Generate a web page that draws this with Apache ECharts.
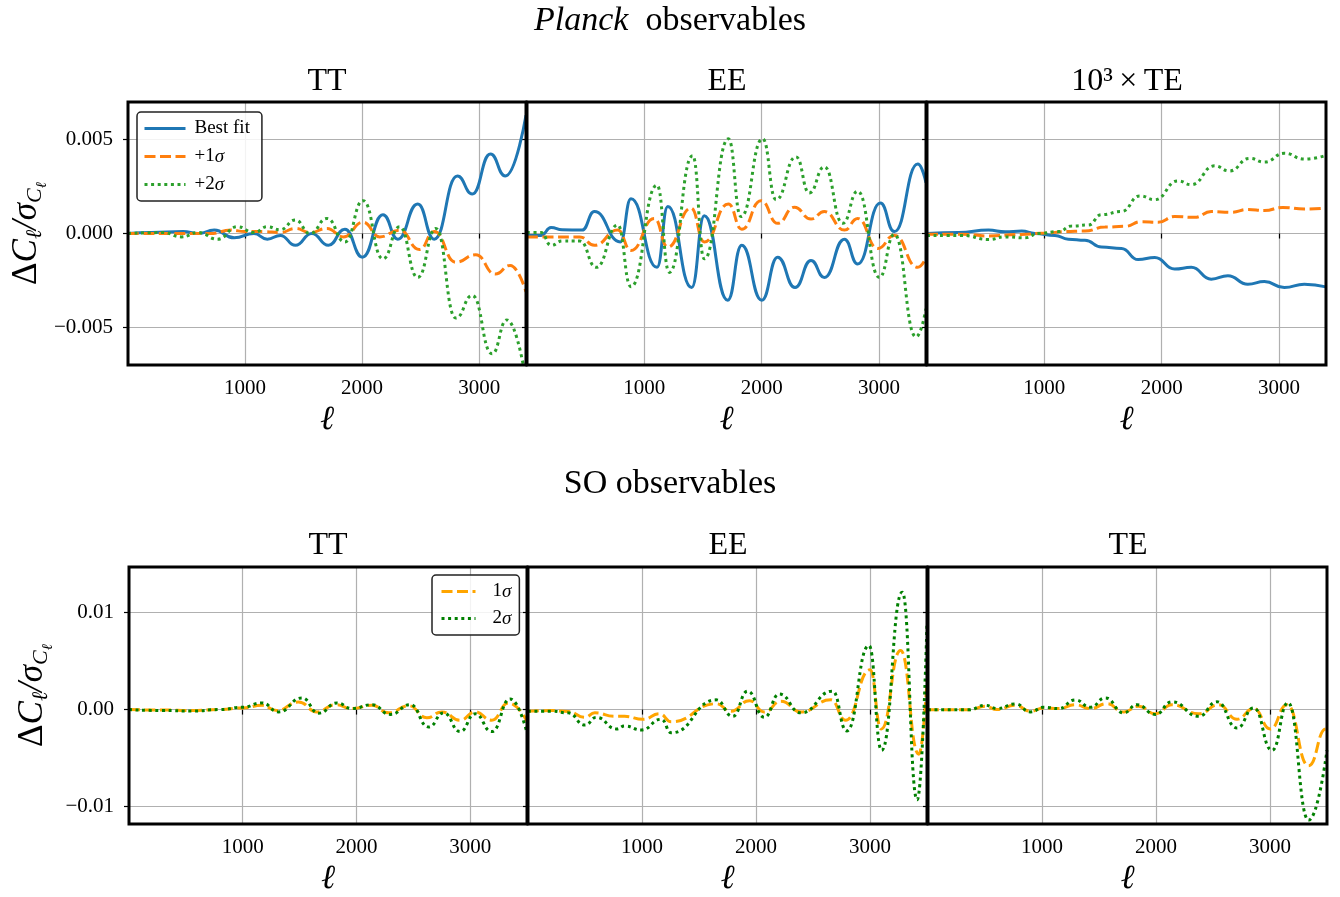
<!DOCTYPE html>
<html><head><meta charset="utf-8">
<script src="https://cdn.jsdelivr.net/npm/echarts@6/dist/echarts.min.js"></script>
<style>html,body{margin:0;padding:0;background:#fff}#c{width:1340px;height:897px}</style>
</head><body><div id="c"></div><script>
// ---------------- data (ell, value) ----------------
const planckTT_best = [[0,0],[200,0.00005],[470,0.0001],[600,0],[737,0.00018],[907,-0.00023],[1076,0],[1190,-0.0003],[1302,-0.0001],[1430,-0.00063],[1570,0],[1712,-0.00063],[1853,0.00023],[2003,-0.00126],[2178,0.001],[2305,-0.0003],[2475,0.00157],[2616,-0.0003],[2814,0.00306],[2941,0.0021],[3096,0.00423],[3223,0.00306],[3400,0.0063]];
const planckTT_p1 = [[0,0],[700,0],[880,0.00018],[1000,0.0001],[1160,0.0001],[1300,0.00005],[1430,0.00027],[1556,0.00005],[1700,0.00027],[1840,-0.00018],[2008,0.0006],[2150,-0.00018],[2320,0.00018],[2490,-0.00085],[2616,0.0001],[2800,-0.00153],[2970,-0.00113],[3138,-0.00216],[3265,-0.0017],[3400,-0.0031]];
const planckTT_p2 = [[0,0],[300,0.00005],[455,-0.00018],[600,0.00005],[765,-0.0003],[935,0.00036],[1076,0.00005],[1190,0.00036],[1300,0.0002],[1430,0.00072],[1556,0],[1700,0.0008],[1853,-0.00045],[2008,0.00175],[2178,-0.00135],[2320,0.00036],[2475,-0.00234],[2630,0.00027],[2800,-0.0045],[2941,-0.0033],[3110,-0.0064],[3237,-0.0046],[3400,-0.0078]];

const planckEE_best = [[0,-0.0001],[120,-0.0001],[205,0.00032],[300,0.0002],[470,0.00018],[574,0.00117],[795,-0.00045],[886,0.00185],[1108,-0.0018],[1200,0.00144],[1403,-0.00288],[1511,0.00095],[1710,-0.00355],[1830,-0.00063],[2000,-0.00355],[2136,-0.00126],[2284,-0.00288],[2420,-0.00144],[2534,-0.00234],[2705,-0.0003],[2818,-0.00162],[3011,0.00162],[3130,0.0001],[3330,0.0037],[3400,0.0027]];
const planckEE_p1 = [[0,-0.00018],[180,-0.00018],[450,-0.00018],[574,-0.00063],[773,0.00018],[886,-0.0009],[1085,0.0008],[1200,-0.00072],[1398,0.00135],[1511,-0.00045],[1716,0.00157],[1830,0.00023],[1994,0.00175],[2136,0.00054],[2278,0.0014],[2420,0.00077],[2534,0.00117],[2705,0.00018],[2818,0.0008],[2989,-0.0008],[3130,-0.0001],[3330,-0.0018],[3400,-0.0013]];
const planckEE_p2 = [[0,0.00005],[120,0.00005],[205,-0.00063],[300,-0.0004],[450,-0.0004],[590,-0.0018],[773,0.00045],[886,-0.00283],[1108,0.00257],[1213,-0.00207],[1412,0.00414],[1511,-0.00135],[1716,0.00504],[1824,0.0009],[2008,0.00504],[2122,0.0018],[2292,0.00408],[2406,0.00216],[2534,0.00355],[2690,0.00054],[2818,0.00225],[3003,-0.00234],[3130,-0.00005],[3315,-0.0055],[3400,-0.004]];

const planckTE_best = [[0,0],[269,0.00005],[524,0.00018],[666,0.00009],[807,0.00013],[920,0],[1090,-0.0001],[1204,-0.0003],[1346,-0.00036],[1487,-0.00072],[1657,-0.0008],[1799,-0.00139],[1941,-0.00128],[2110,-0.00189],[2252,-0.0018],[2422,-0.00243],[2564,-0.00225],[2734,-0.0027],[2875,-0.00256],[3045,-0.00288],[3215,-0.0027],[3400,-0.00284]];
const planckTE_p1 = [[0,-0.00004],[300,-0.00004],[524,-0.00013],[800,-0.00005],[1006,0.00002],[1176,0.0001],[1346,0.00013],[1516,0.00034],[1686,0.00038],[1827,0.00063],[1969,0.0006],[2110,0.0009],[2280,0.00086],[2422,0.00117],[2592,0.00113],[2734,0.00128],[2875,0.00122],[3031,0.00139],[3215,0.0013],[3400,0.00136]];
const planckTE_p2 = [[0,-0.0001],[300,-0.0001],[524,-0.00032],[666,-0.00018],[836,-0.00023],[949,0],[1119,0.0001],[1232,0.0004],[1374,0.00045],[1487,0.001],[1657,0.00117],[1813,0.002],[1941,0.0018],[2139,0.0028],[2252,0.0026],[2450,0.0036],[2578,0.00333],[2748,0.004],[2875,0.0038],[3045,0.00427],[3215,0.00396],[3400,0.00416]];

const soTT_1 = [[0,0],[300,-0.00005],[550,-0.0001],[800,0],[995,0.00017],[1170,0.00044],[1300,-0.0001],[1490,0.00078],[1653,-0.00024],[1814,0.0005],[1961,0.0001],[2136,0.00044],[2283,-0.00034],[2459,0.0004],[2620,-0.00085],[2751,-0.00024],[2912,-0.0011],[3044,-0.00024],[3190,-0.0011],[3337,0.00068],[3500,-0.0012]];
const soTT_2 = [[0,0],[300,-0.0001],[550,-0.00015],[800,0],[995,0.00024],[1170,0.00068],[1316,-0.00024],[1521,0.0012],[1668,-0.00037],[1829,0.00068],[1961,0.0001],[2136,0.0005],[2298,-0.0005],[2474,0.0005],[2635,-0.0018],[2767,-0.00034],[2912,-0.00227],[3044,-0.00044],[3190,-0.00227],[3352,0.0011],[3500,-0.0024]];

const soEE_1 = [[0,-0.00017],[207,-0.0001],[353,-0.0002],[499,-0.0008],[586,-0.00034],[761,-0.0007],[848,-0.0007],[1009,-0.001],[1155,-0.00044],[1257,-0.00126],[1650,0.0006],[1781,-0.00017],[1942,0.00092],[2073,-0.00024],[2219,0.00085],[2394,-0.00024],[2656,0.001],[2787,-0.0011],[3000,0.0041],[3099,-0.002],[3268,0.0061],[3428,-0.0046],[3500,0.003]];
const soEE_2 = [[0,-0.00017],[207,-0.00017],[353,-0.00034],[499,-0.0016],[600,-0.0008],[776,-0.002],[848,-0.0017],[994,-0.0021],[1169,-0.001],[1257,-0.0024],[1650,0.001],[1796,-0.0007],[1927,0.0019],[2073,-0.0008],[2204,0.0016],[2394,-0.00034],[2671,0.0019],[2796,-0.0022],[2991,0.0066],[3102,-0.0042],[3283,0.0121],[3414,-0.0093],[3500,0.009]];

const soTE_1 = [[0,-0.00003],[357,-0.00003],[503,0.00034],[605,0],[766,0.00044],[898,-0.00017],[1015,0.00015],[1146,0.0001],[1292,0.0005],[1424,0.0001],[1570,0.0006],[1716,-0.00024],[1848,0.00034],[1994,-0.00044],[2140,0.0005],[2374,-0.00044],[2550,0.0005],[2711,-0.001],[2857,0.0001],[3003,-0.002],[3149,0.0005],[3339,-0.0058],[3490,-0.002],[3500,-0.002]];
const soTE_2 = [[0,-0.00003],[357,-0.00003],[503,0.00044],[605,0.0001],[766,0.00058],[898,-0.00024],[1015,0.00024],[1146,0.0001],[1292,0.001],[1424,0.00024],[1556,0.0012],[1716,-0.00034],[1833,0.0005],[1994,-0.0005],[2140,0.0008],[2374,-0.0007],[2535,0.0008],[2711,-0.0019],[2857,0.00017],[3018,-0.0042],[3158,0.0007],[3339,-0.0114],[3500,-0.0042]];

const xTickValues = [1000, 2000, 3000];
const topYTicks = [-0.005, 0, 0.005];
const botYTicks = [-0.01, 0, 0.01];
const topPanelTitles = ['TT', 'EE', '10\u00b3\u2009\u00d7\u2009TE'];
const botPanelTitles = ['TT', 'EE', 'TE'];
const topNames = ['Best fit', '+1\u03c3', '+2\u03c3'];
const botNames = ['1\u03c3', '2\u03c3'];

// ---------------- chart ----------------
const FONT = '"Liberation Serif","DejaVu Serif",serif';
const chart = echarts.init(document.getElementById('c'), null, {renderer: 'canvas'});

const grids = [
  {left: 128, top: 102, width: 398, height: 263},
  {left: 527, top: 102, width: 399, height: 263},
  {left: 927, top: 102, width: 399, height: 263},
  {left: 129, top: 567, width: 398, height: 260},
  {left: 528, top: 567, width: 399, height: 260},
  {left: 928, top: 567, width: 399, height: 260}
].map(g => Object.assign(g, {show: true, borderColor: '#000', borderWidth: 3, backgroundColor: 'transparent', z: 5}));

function fmtY(v, step, dec) {
  if (Math.abs(v / step - Math.round(v / step)) > 1e-6) return '';
  const s = Math.abs(v).toFixed(dec);
  return v < -1e-12 ? '\u2212' + s : s;
}

function xAx(gi, max) {
  return {
    type: 'value', gridIndex: gi, min: 0, max: max, interval: 1000,
    axisLine: {show: false},
    axisTick: {show: true, length: 5, inside: false, customValues: xTickValues, lineStyle: {color: '#000', width: 1.2}},
    axisLabel: {customValues: xTickValues, formatter: v => (v > 0 && v <= 3000 && v % 1000 === 0) ? String(v) : '',
      fontFamily: FONT, fontSize: 21, color: '#000', margin: 13},
    splitLine: {show: true, lineStyle: {color: '#b0b0b0', width: 1.2}},
    name: '\u2113', nameLocation: 'middle', nameGap: 38,
    nameTextStyle: {fontFamily: FONT, fontStyle: 'italic', fontSize: 34, color: '#000'}
  };
}

const yNameRich = {
  d: {fontFamily: FONT, fontSize: 35, color: '#000', lineHeight: 34, verticalAlign: 'top'},
  m: {fontFamily: FONT, fontSize: 35, fontStyle: 'italic', color: '#000', lineHeight: 34, verticalAlign: 'top'},
  s: {fontFamily: FONT, fontSize: 22, fontStyle: 'italic', color: '#000', lineHeight: 22, padding: [15, 0, 0, 0], verticalAlign: 'top'},
  ss: {fontFamily: FONT, fontSize: 15, fontStyle: 'italic', color: '#000', lineHeight: 15, padding: [26, 0, 0, 0], verticalAlign: 'top'}
};

function yAx(gi, min, max, step, dec, ticks, showLabels) {
  const ax = {
    type: 'value', gridIndex: gi, min: min, max: max, splitNumber: 3, minInterval: step, maxInterval: step,
    axisLine: {show: false},
    axisTick: {show: true, length: 5, inside: false, customValues: ticks, lineStyle: {color: '#000', width: 1.2}},
    axisLabel: {show: showLabels, customValues: ticks, formatter: v => fmtY(v, step, dec),
      fontFamily: FONT, fontSize: 21, color: '#000', margin: 15},
    splitLine: {show: true, lineStyle: {color: '#b0b0b0', width: 1.2}}
  };
  if (showLabels) {
    ax.name = '{d|\u0394}{m|C}{s|\u2113}{m|/\u03c3}{s|C}{ss|\u2113}';
    ax.nameLocation = 'middle';
    ax.nameRotate = 90;
    ax.nameGap = 80;
    ax.nameTextStyle = {rich: yNameRich};
  }
  return ax;
}

const xAxes = [xAx(0, 3400), xAx(1, 3400), xAx(2, 3400), xAx(3, 3500), xAx(4, 3500), xAx(5, 3500)];
const yAxes = [
  yAx(0, -0.007, 0.007, 0.005, 3, topYTicks, true),
  yAx(1, -0.007, 0.007, 0.005, 3, topYTicks, false),
  yAx(2, -0.007, 0.007, 0.005, 3, topYTicks, false),
  yAx(3, -0.0118, 0.0147, 0.01, 2, botYTicks, true),
  yAx(4, -0.0118, 0.0147, 0.01, 2, botYTicks, false),
  yAx(5, -0.0118, 0.0147, 0.01, 2, botYTicks, false)
];

const BLUE = '#1f77b4', ORANGE = '#ff7f0e', GREEN = '#2ca02c';
const SO_ORANGE = '#ffa500', SO_GREEN = '#008000';
const DASH = [11, 4.5], DOT = [3, 3.6];

function line(idx, name, data, color, type, z) {
  return {
    type: 'line', name: name, xAxisIndex: idx, yAxisIndex: idx, data: data,
    symbol: 'none', showSymbol: false, smooth: 0.5, smoothMonotone: 'x', clip: true, z: z,
    lineStyle: {color: color, width: 3, type: type, cap: 'butt'}, itemStyle: {color: color}
  };
}

const series = [
  line(0, topNames[0], planckTT_best, BLUE, 'solid', 2),
  line(0, topNames[1], planckTT_p1, ORANGE, DASH, 3),
  line(0, topNames[2], planckTT_p2, GREEN, DOT, 4),
  line(1, topNames[0], planckEE_best, BLUE, 'solid', 2),
  line(1, topNames[1], planckEE_p1, ORANGE, DASH, 3),
  line(1, topNames[2], planckEE_p2, GREEN, DOT, 4),
  line(2, topNames[0], planckTE_best, BLUE, 'solid', 2),
  line(2, topNames[1], planckTE_p1, ORANGE, DASH, 3),
  line(2, topNames[2], planckTE_p2, GREEN, DOT, 4),
  line(3, botNames[0], soTT_1, SO_ORANGE, DASH, 3),
  line(3, botNames[1], soTT_2, SO_GREEN, DOT, 4),
  line(4, botNames[0], soEE_1, SO_ORANGE, DASH, 3),
  line(4, botNames[1], soEE_2, SO_GREEN, DOT, 4),
  line(5, botNames[0], soTE_1, SO_ORANGE, DASH, 3),
  line(5, botNames[1], soTE_2, SO_GREEN, DOT, 4)
];

const titleStyle = (size) => ({fontFamily: FONT, fontSize: size, fontWeight: 'normal', color: '#000',
  rich: {i: {fontFamily: FONT, fontSize: size, fontStyle: 'italic', color: '#000'}}});
const titles = [
  {text: '{i|Planck}  observables', left: 670, top: 4, textAlign: 'center', padding: 0, textStyle: titleStyle(34)},
  {text: 'SO observables', left: 670, top: 467, textAlign: 'center', padding: 0, textStyle: titleStyle(34)}
];
const topCenters = [327, 727, 1127], botCenters = [328, 728, 1128];
topPanelTitles.forEach((t, i) => titles.push({text: t, left: topCenters[i], top: 66, textAlign: 'center', padding: 0, textStyle: titleStyle(32)}));
botPanelTitles.forEach((t, i) => titles.push({text: t, left: botCenters[i], top: 530, textAlign: 'center', padding: 0, textStyle: titleStyle(32)}));

const legendText = {fontFamily: FONT, fontSize: 19, color: '#000',
  rich: {i: {fontFamily: FONT, fontSize: 19, fontStyle: 'italic', color: '#000'}}};
const legendCommon = {
  orient: 'vertical', itemHeight: 14, borderColor: '#222', borderWidth: 1.5, borderRadius: 4,
  backgroundColor: 'rgba(255,255,255,0.85)', selectedMode: false,
  itemStyle: {opacity: 0, borderWidth: 0},
  lineStyle: {width: 3, inactiveWidth: 3},
  formatter: n => n.replace('\u03c3', '{i|\u03c3}')
};
const legends = [
  Object.assign({}, legendCommon, {data: topNames, left: 137, top: 112, itemWidth: 41, itemGap: 9,
    padding: [7, 12, 7, 6], textStyle: Object.assign({}, legendText, {padding: [0, 0, 0, 4]})}),
  Object.assign({}, legendCommon, {data: botNames, left: 432, top: 575, itemWidth: 34, itemGap: 8,
    padding: [7, 8, 7, 8], textStyle: Object.assign({}, legendText, {padding: [0, 0, 0, 12]})})
];

chart.setOption({
  animation: false,
  backgroundColor: '#fff',
  title: titles,
  legend: legends,
  grid: grids,
  xAxis: xAxes,
  yAxis: yAxes,
  series: series
});
</script></body></html>
